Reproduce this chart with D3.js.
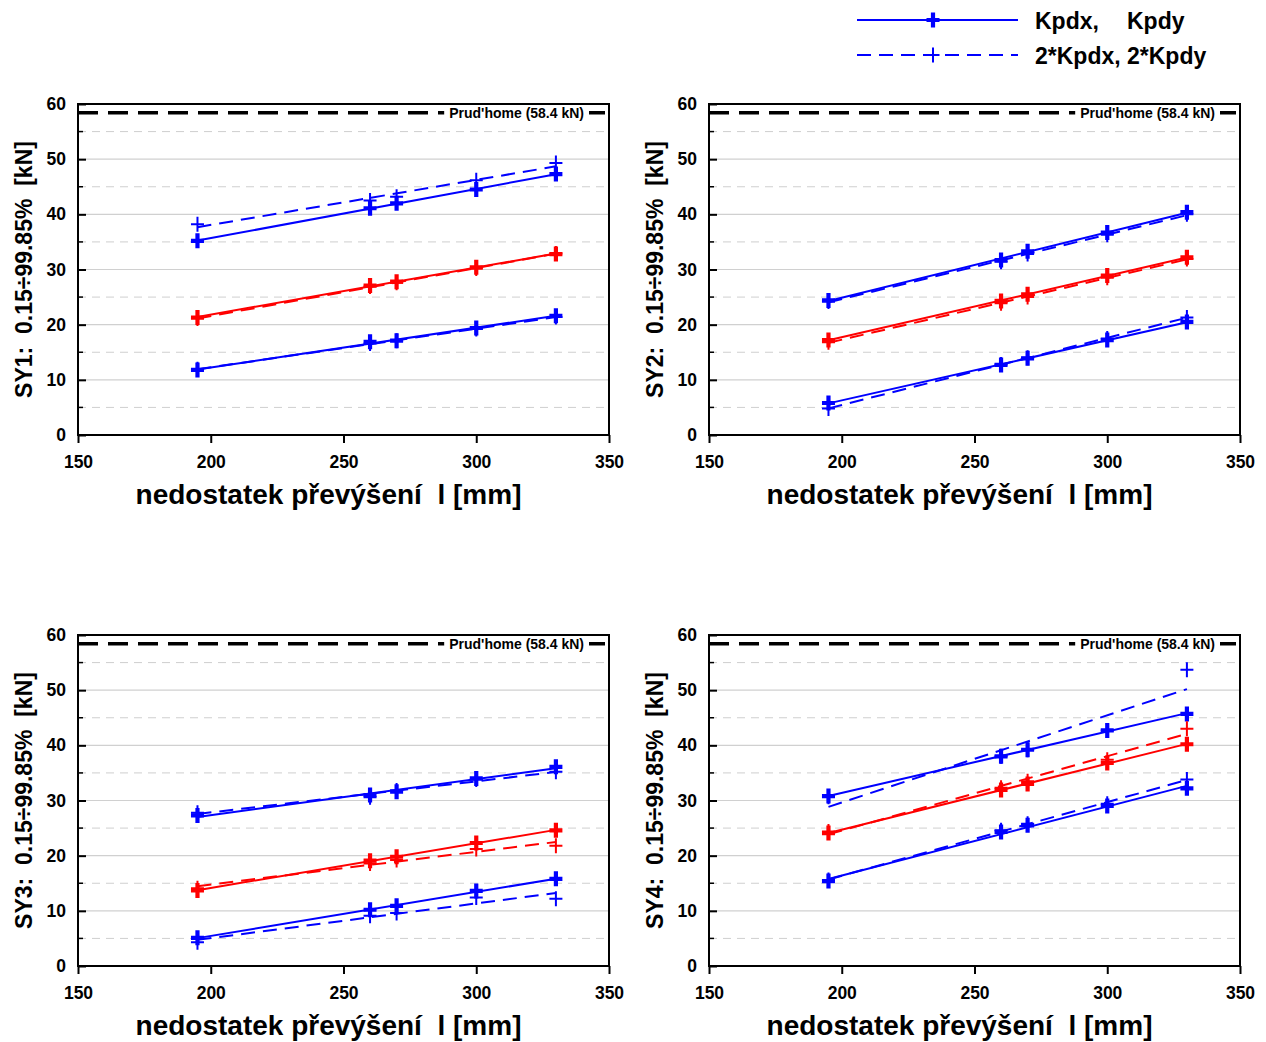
<!DOCTYPE html>
<html><head><meta charset="utf-8">
<script src="https://cdn.jsdelivr.net/npm/d3@7"></script>
<style>
body{margin:0;background:#fff}
text{font-family:"Liberation Sans",Arial,sans-serif;font-weight:bold;white-space:pre}
</style>
</head><body>
<svg id="chart" width="1266" height="1042"></svg>
<script>
// cant deficiency (mm) at which the forces were evaluated
const cantDeficiency = [195, 260, 270, 300, 330];

// SY1: upper blue, red, lower blue; "1" = Kpdx/Kpdy, "2" = 2*Kpdx/2*Kpdy
const sy1Upper1 = [35.2, 41.1, 42.0, 44.5, 47.3];
const sy1Upper2 = [38.2, 42.5, 43.2, 46.2, 49.3];
const sy1Mid1   = [21.3, 27.1, 27.8, 30.4, 32.8];
const sy1Mid2   = [21.1, 26.9, 27.6, 30.2, 32.9];
const sy1Low1   = [11.8, 16.9, 17.1, 19.4, 21.6];
const sy1Low2   = [11.9, 16.6, 17.1, 19.2, 21.4];

const sy2Upper1 = [24.4, 31.7, 33.3, 36.7, 40.4];
const sy2Upper2 = [24.2, 31.4, 32.8, 36.3, 40.0];
const sy2Mid1   = [17.2, 24.3, 25.5, 28.9, 32.2];
const sy2Mid2   = [16.8, 23.9, 25.0, 28.5, 31.9];
const sy2Low1   = [5.8, 12.7, 13.9, 17.2, 20.5];
const sy2Low2   = [4.8, 12.8, 14.0, 17.5, 21.3];

const sy3Upper1 = [27.3, 31.0, 31.6, 34.0, 36.1];
const sy3Upper2 = [27.8, 30.6, 31.8, 33.8, 35.2];
const sy3Mid1   = [13.7, 19.1, 19.8, 22.3, 24.6];
const sy3Mid2   = [14.1, 18.6, 19.2, 21.2, 21.8];
const sy3Low1   = [5.1, 10.2, 10.9, 13.6, 15.8];
const sy3Low2   = [4.3, 9.1, 9.6, 12.4, 12.2];

const sy4Upper1 = [30.8, 38.0, 39.2, 42.7, 45.7];
const sy4Upper2 = [30.7, 38.0, 39.2, 42.7, 53.7];
const sy4Mid1   = [24.1, 31.9, 33.0, 36.8, 40.2];
const sy4Mid2   = [24.4, 32.3, 33.5, 37.4, 43.0];
const sy4Low1   = [15.4, 24.3, 25.5, 29.0, 32.2];
const sy4Low2   = [15.6, 24.6, 25.8, 29.4, 33.8];

const panelNames = ["SY1", "SY2", "SY3", "SY4"];
const panelSeries = [
  [sy1Upper1, sy1Upper2, sy1Mid1, sy1Mid2, sy1Low1, sy1Low2],
  [sy2Upper1, sy2Upper2, sy2Mid1, sy2Mid2, sy2Low1, sy2Low2],
  [sy3Upper1, sy3Upper2, sy3Mid1, sy3Mid2, sy3Low1, sy3Low2],
  [sy4Upper1, sy4Upper2, sy4Mid1, sy4Mid2, sy4Low1, sy4Low2]
];

const xTicks = [150, 200, 250, 300, 350];
const yTicks = [0, 10, 20, 30, 40, 50, 60];
const yMinorTicks = [5, 15, 25, 35, 45, 55];
const prudhomeLimit = 58.4;
const prudhomeLabel = "Prud'home (58.4 kN)";
const xTitle = "nedostatek převýšení  l [mm]";
const yTitleSuffix = ":  0.15÷99.85%  [kN]";
const legendLabels = [["Kpdx,", "Kpdy"], ["2*Kpdx, 2*Kpdy", ""]];

// ---- styling ----
const BLUE = "#0000ff", RED = "#ff0000";
const seriesColor = [BLUE, BLUE, RED, RED, BLUE, BLUE];
const W = 531, H = 331;
const origins = [[78, 104], [709, 104], [78, 635], [709, 635]];

const svg = d3.select("#chart");
const x = d3.scaleLinear().domain([150, 350]).range([0, W]);
const y = d3.scaleLinear().domain([0, 60]).range([H, 0]);

// least-squares trend line through a series
function trend(xs, ys) {
  const n = xs.length, mx = d3.mean(xs), my = d3.mean(ys);
  let sxy = 0, sxx = 0;
  for (let i = 0; i < n; i++) { sxy += (xs[i] - mx) * (ys[i] - my); sxx += (xs[i] - mx) ** 2; }
  const b = sxy / sxx, a = my - b * mx;
  const x0 = d3.min(xs), x1 = d3.max(xs);
  return [[x0, a + b * x0], [x1, a + b * x1]];
}

const plus = (s) => `M${-s},0H${s}M0,${-s - 1}V${s + 1}`;

panelNames.forEach((name, pi) => {
  const [ox, oy] = origins[pi];
  const g = svg.append("g").attr("transform", `translate(${ox},${oy})`);

  // grid
  g.selectAll(".gmaj").data(yTicks.filter(v => v > 0 && v < 60)).join("line")
    .attr("x1", 0).attr("x2", W).attr("y1", d => y(d)).attr("y2", d => y(d))
    .attr("stroke", "#d0d0d0").attr("stroke-width", 1.2);
  g.selectAll(".gmin").data(yMinorTicks).join("line")
    .attr("x1", 0).attr("x2", W).attr("y1", d => y(d)).attr("y2", d => y(d))
    .attr("stroke", "#cfcfcf").attr("stroke-width", 1).attr("stroke-dasharray", "8,6");

  // Prud'home limit
  g.append("line").attr("x1", 0).attr("x2", W - 4)
    .attr("y1", y(prudhomeLimit)).attr("y2", y(prudhomeLimit))
    .attr("stroke", "#000").attr("stroke-width", 3.5).attr("stroke-dasharray", "20,10");
  const lbl = g.append("text").attr("x", W - 25).attr("y", y(prudhomeLimit) + 5)
    .attr("text-anchor", "end").attr("font-size", 14).text(prudhomeLabel);
  const bb = lbl.node().getBBox();
  g.insert("rect", "text").attr("x", bb.x - 5).attr("y", bb.y).attr("width", bb.width + 10)
    .attr("height", bb.height).attr("fill", "#fff");

  // trend lines and markers
  const line = d3.line().x(d => x(d[0])).y(d => y(d[1]));
  panelSeries[pi].forEach((vals, si) => {
    const dashed = si % 2 === 1;
    g.append("path").attr("d", line(trend(cantDeficiency, vals)))
      .attr("fill", "none").attr("stroke", seriesColor[si]).attr("stroke-width", 2)
      .attr("stroke-dasharray", dashed ? "14,8" : null);
  });
  panelSeries[pi].forEach((vals, si) => {
    const dashed = si % 2 === 1;
    g.selectAll(null).data(vals.map((v, i) => [cantDeficiency[i], v])).join("path")
      .attr("transform", d => `translate(${x(d[0])},${y(d[1])})`)
      .attr("d", plus(6.5))
      .attr("fill", "none").attr("stroke", seriesColor[si])
      .attr("stroke-width", dashed ? 2 : 4.2);
  });

  // frame
  g.append("rect").attr("width", W).attr("height", H)
    .attr("fill", "none").attr("stroke", "#000").attr("stroke-width", 2);

  // y axis: inward ticks
  const yAxis = d3.axisLeft(y).tickValues(yTicks).tickSizeInner(-8).tickSizeOuter(0).tickPadding(12);
  const ya = g.append("g").call(yAxis);
  ya.select(".domain").remove();
  ya.selectAll("line").attr("stroke-width", 2);
  ya.selectAll("text").attr("font-size", 17.5).attr("font-family", "Liberation Sans, Arial, sans-serif")
    .attr("font-weight", "bold").attr("fill", "#000");
  g.selectAll(".ymin").data(yMinorTicks).join("line")
    .attr("x1", 0).attr("x2", 5).attr("y1", d => y(d)).attr("y2", d => y(d))
    .attr("stroke", "#000").attr("stroke-width", 1.5);

  // x axis: outward ticks
  const xAxis = d3.axisBottom(x).tickValues(xTicks).tickSizeInner(8).tickSizeOuter(0).tickPadding(13);
  const xa = g.append("g").attr("transform", `translate(0,${H})`).call(xAxis);
  xa.select(".domain").remove();
  xa.selectAll("line").attr("stroke-width", 2);
  xa.selectAll("text").attr("font-size", 17.5).attr("font-family", "Liberation Sans, Arial, sans-serif")
    .attr("font-weight", "bold").attr("fill", "#000");

  // titles
  g.append("text").attr("x", W / 2 - 15).attr("y", H + 69).attr("text-anchor", "middle")
    .attr("font-size", 28).text(xTitle);
  g.append("text").attr("transform", `translate(-46,${H / 2}) rotate(-90)`)
    .attr("text-anchor", "middle").attr("font-size", 23).text(name + yTitleSuffix);
});

// legend
const lg = svg.append("g");
[[20, null, 4.2], [55, "14,8", 2]].forEach(([ly, dash, mw], i) => {
  lg.append("line").attr("x1", 857).attr("x2", 1018).attr("y1", ly).attr("y2", ly)
    .attr("stroke", BLUE).attr("stroke-width", 2).attr("stroke-dasharray", dash);
  lg.append("path").attr("transform", `translate(933,${ly})`).attr("d", plus(6.5))
    .attr("fill", "none").attr("stroke", BLUE).attr("stroke-width", mw);
  lg.append("text").attr("x", 1035).attr("y", ly + 9).attr("font-size", 23).text(legendLabels[i][0]);
  if (legendLabels[i][1])
    lg.append("text").attr("x", 1127).attr("y", ly + 9).attr("font-size", 23).text(legendLabels[i][1]);
});
</script>
</body></html>
